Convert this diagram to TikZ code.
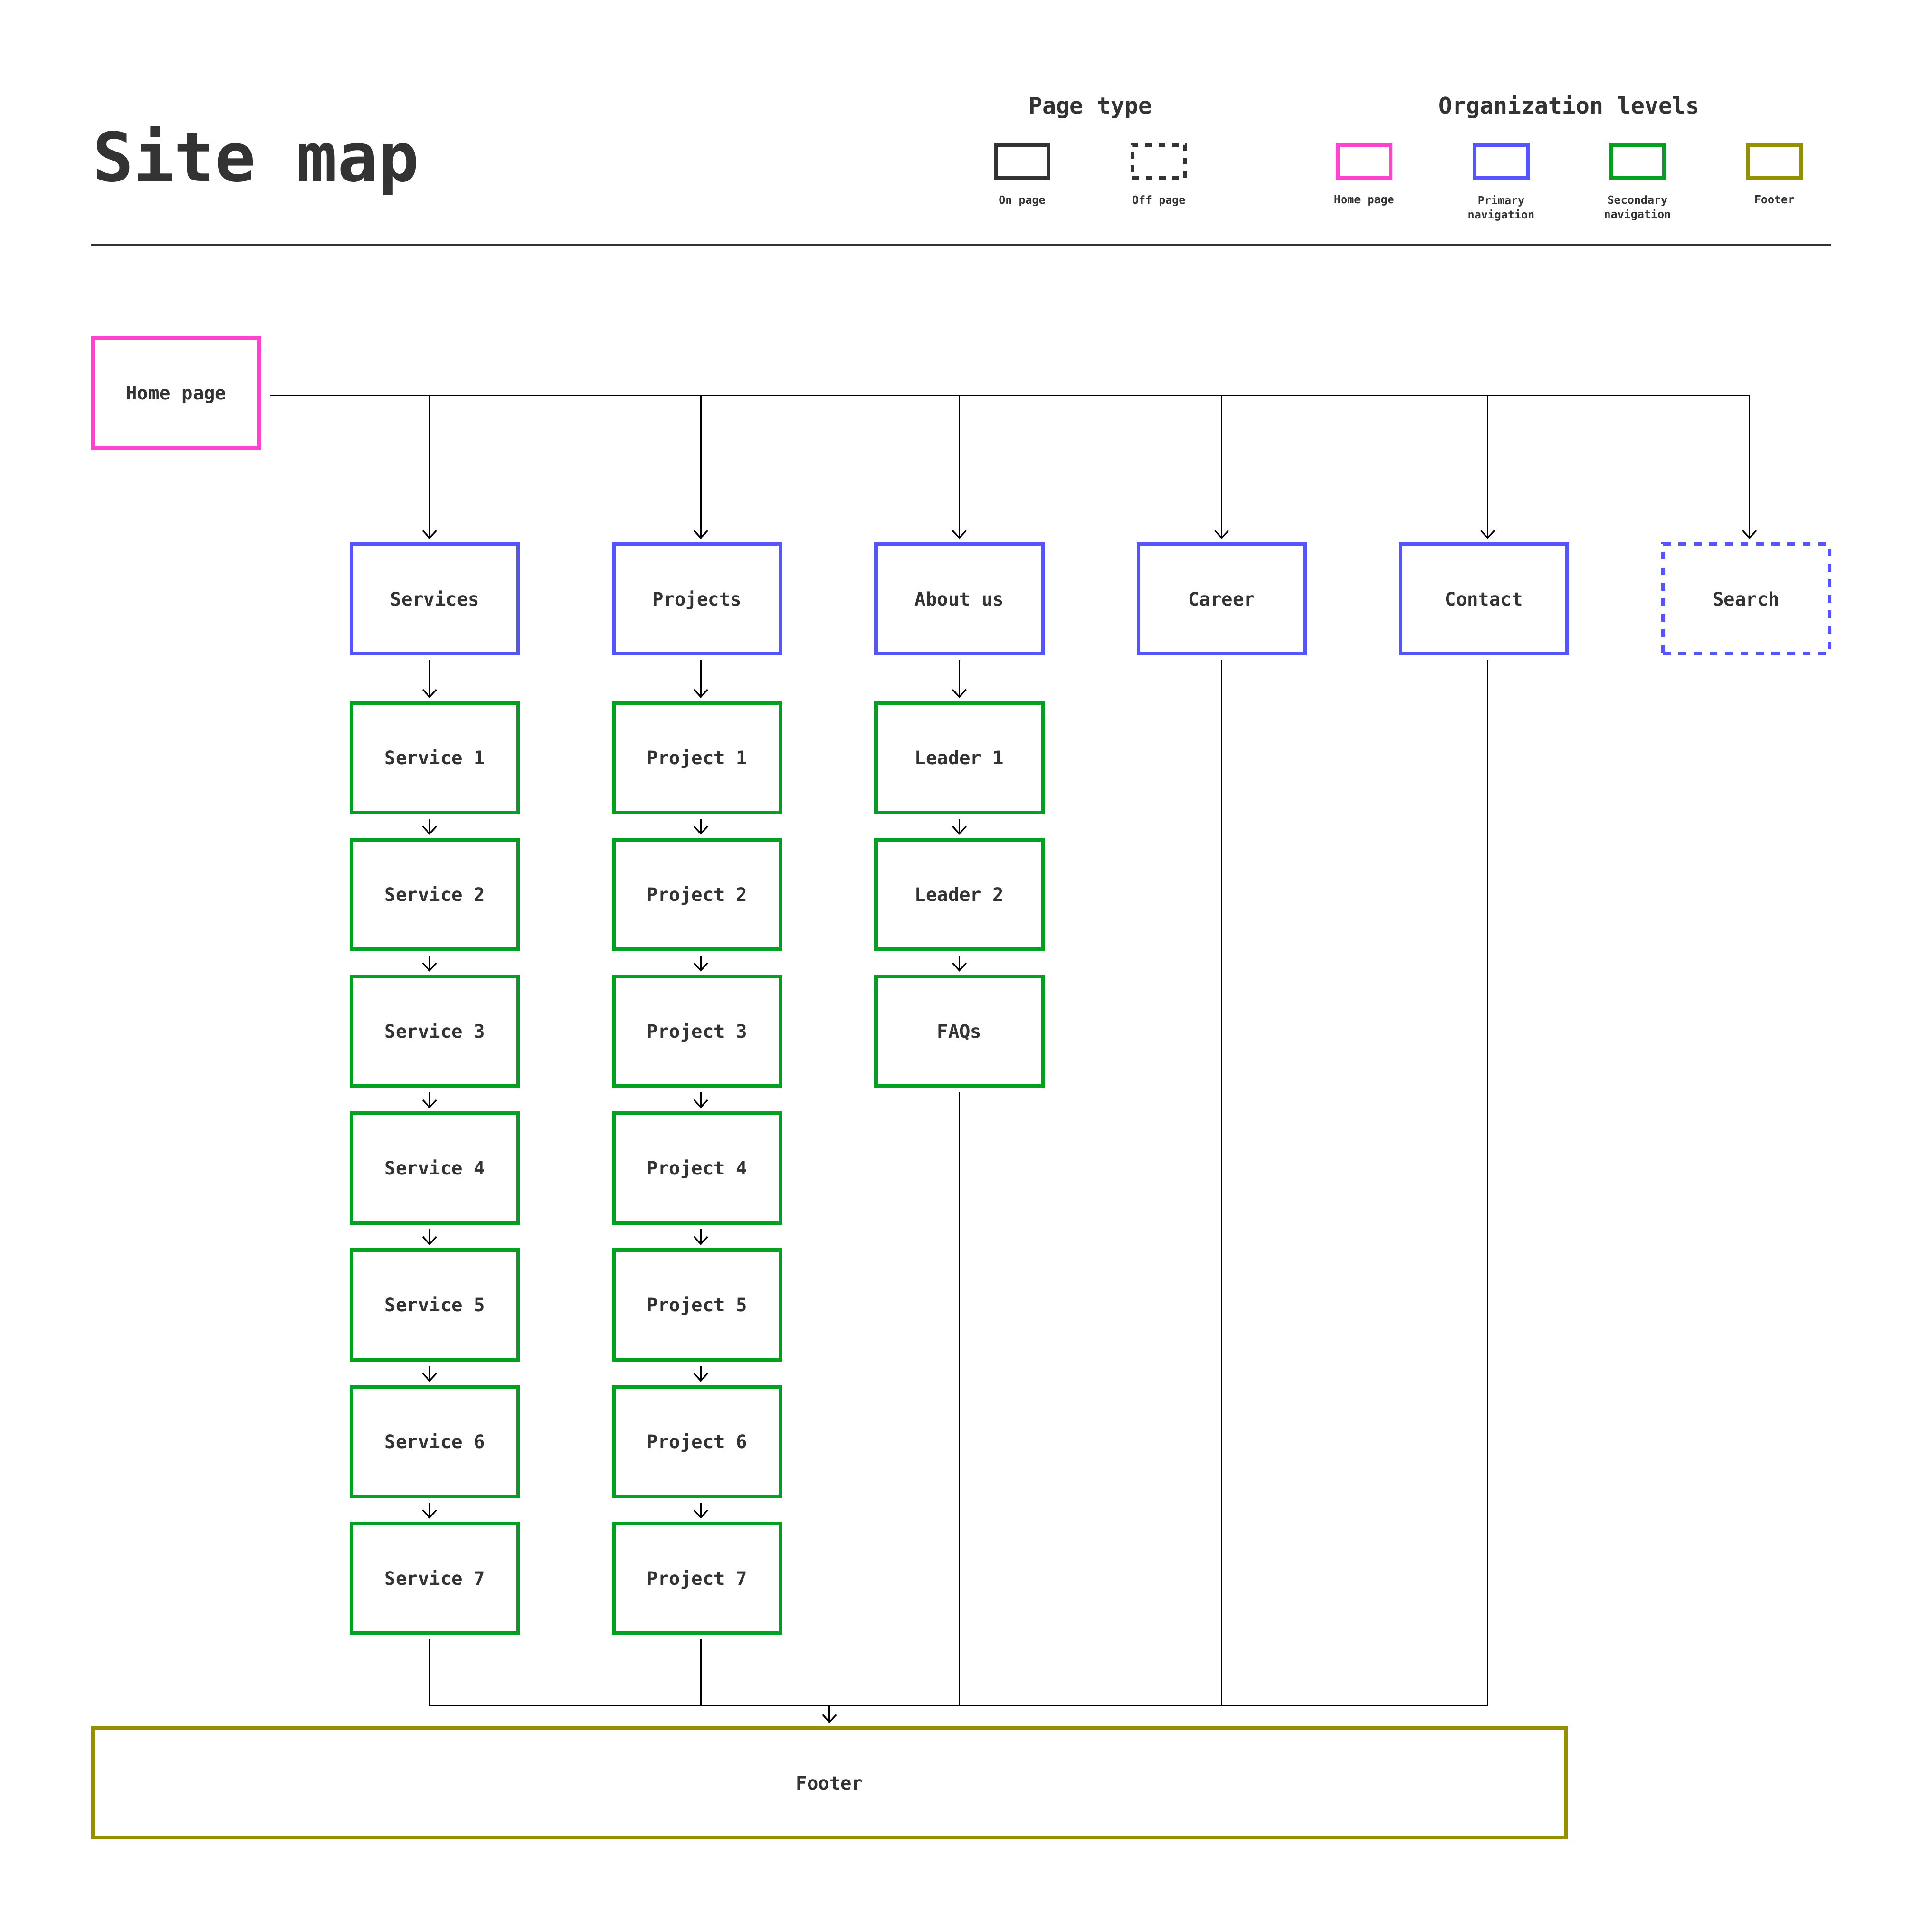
\documentclass[tikz,border=0pt]{standalone}
\usepackage{fontspec}
\newfontfamily\mapfont{DejaVu Sans Mono}
\usepackage{xcolor}
\definecolor{ink}{HTML}{333333}
\definecolor{homepink}{HTML}{FF44CC}
\definecolor{navblue}{HTML}{5555FF}
\definecolor{subgreen}{HTML}{00A020}
\definecolor{footolive}{HTML}{968F00}
\usepackage{tikz}
\usetikzlibrary{arrows.meta}

\tikzset{
  page/.style={draw, line width=3pt, minimum width=135pt, minimum height=89pt, inner sep=0pt,
    text height=11pt, text depth=0pt, text=ink, font=\mapfont\bfseries\fontsize{15}{18}\selectfont},
  homepage/.style={page, draw=homepink},
  primary/.style={page, draw=navblue},
  secondary/.style={page, draw=subgreen},
  footerpage/.style={page, draw=footolive, minimum width=1195pt},
  offpage/.style={dash pattern=on 6.3pt off 6.3pt},
  link/.style={line width=1.2pt, -{Straight Barb[length=6pt,width=11pt]}, shorten >=2.5pt},
  boxlink/.style={link, shorten <=3.5pt},
  wire/.style={line width=1.2pt, shorten <=3.5pt},
  legendbox/.style={draw, line width=3pt, minimum width=43pt, minimum height=27pt, inner sep=0pt},
  legendtitle/.style={anchor=base, inner sep=0pt, text=ink, font=\mapfont\bfseries\fontsize{18.5}{21}\selectfont},
  legendlabel/.style={anchor=north, inner sep=0pt, align=center, text=ink,
    font=\mapfont\bfseries\fontsize{9}{11.6}\selectfont},
}

\begin{document}
\begin{tikzpicture}[x=1pt, y=-1pt]
            \fill[white] (0,0) rectangle (1560,1568);
            \useasboundingbox (0,0) rectangle (1560,1568);

            % header
            \node[anchor=base west, inner sep=0pt, text=ink, font=\mapfont\bfseries\fontsize{55}{62}\selectfont] (title) at (75,147) {Site map};
            \draw[line width=1.5pt, ink] (74,198.7) -- (1486,198.7);

            % legend
            \node[legendtitle] (typetitle) at (884.7,92.5) {Page type};
            \node[legendtitle] (leveltitle) at (1273.2,92.5) {Organization levels};

            \node[legendbox, draw=ink] (legon) at (829.3,131) {};
            \node[legendbox, draw=ink, dash pattern=on 5.4pt off 5.4pt] (legoff) at (940.2,131) {};
            \node[legendbox, draw=homepink] (leghome) at (1106.8,131) {};
            \node[legendbox, draw=navblue] (legprim) at (1218,131) {};
            \node[legendbox, draw=subgreen] (legsec) at (1328.6,131) {};
            \node[legendbox, draw=footolive] (legfoot) at (1439.7,131) {};

            \node[legendlabel] (legonlbl) at (829.3,158.5) {On page};
            \node[legendlabel] (legofflbl) at (940.2,158.5) {Off page};
            \node[legendlabel] (leghomelbl) at (1106.8,158.5) {Home page};
            \node[legendlabel] (legprimlbl) at (1218,158.5) {Primary\\navigation};
            \node[legendlabel] (legseclbl) at (1328.6,158.5) {Secondary\\navigation};
            \node[legendlabel] (legfootlbl) at (1439.7,158.5) {Footer};

            % pages
            \node[homepage] (home) at (143,319) {Home page};

            \node[primary] (srv) at (352.8,486) {Services};
            \node[primary] (prj) at (565.6,486) {Projects};
            \node[primary] (abt) at (778.4,486) {About us};
            \node[primary] (car) at (991.2,486) {Career};
            \node[primary] (con) at (1204,486) {Contact};
            \node[primary, offpage] (sea) at (1416.8,486) {Search};

            \node[secondary] (s1) at (352.8,615) {Service 1};
            \node[secondary] (s2) at (352.8,726) {Service 2};
            \node[secondary] (s3) at (352.8,837) {Service 3};
            \node[secondary] (s4) at (352.8,948) {Service 4};
            \node[secondary] (s5) at (352.8,1059) {Service 5};
            \node[secondary] (s6) at (352.8,1170) {Service 6};
            \node[secondary] (s7) at (352.8,1281) {Service 7};

            \node[secondary] (p1) at (565.6,615) {Project 1};
            \node[secondary] (p2) at (565.6,726) {Project 2};
            \node[secondary] (p3) at (565.6,837) {Project 3};
            \node[secondary] (p4) at (565.6,948) {Project 4};
            \node[secondary] (p5) at (565.6,1059) {Project 5};
            \node[secondary] (p6) at (565.6,1170) {Project 6};
            \node[secondary] (p7) at (565.6,1281) {Project 7};

            \node[secondary] (l1) at (778.4,615) {Leader 1};
            \node[secondary] (l2) at (778.4,726) {Leader 2};
            \node[secondary] (faq) at (778.4,837) {FAQs};

            \node[footerpage] (footer) at (673,1447) {Footer};

            % columns of the connectors
            \coordinate (xsrv) at ([xshift=-4.3pt]srv.center);
            \coordinate (xprj) at ([xshift=3pt]prj.center);
            \coordinate (xabt) at (abt.center);
            \coordinate (xcar) at (car.center);
            \coordinate (xcon) at ([xshift=3pt]con.center);
            \coordinate (xsea) at ([xshift=2.7pt]sea.center);
            \coordinate (hbus) at ([xshift=4pt,yshift=-2pt]home.east);
            \coordinate (fbus) at ([yshift=17pt]footer.north);

            % home page to primary navigation
            \draw[boxlink] (hbus) -| (xsea |- sea.north);
            \draw[link] (xsrv |- hbus) -- (xsrv |- srv.north);
            \draw[link] (xprj |- hbus) -- (xprj |- prj.north);
            \draw[link] (xabt |- hbus) -- (xabt |- abt.north);
            \draw[link] (xcar |- hbus) -- (xcar |- car.north);
            \draw[link] (xcon |- hbus) -- (xcon |- con.north);

            % secondary navigation
            \draw[boxlink] (xsrv |- srv.south) -- (xsrv |- s1.north);
            \draw[boxlink] (xsrv |- s1.south) -- (xsrv |- s2.north);
            \draw[boxlink] (xsrv |- s2.south) -- (xsrv |- s3.north);
            \draw[boxlink] (xsrv |- s3.south) -- (xsrv |- s4.north);
            \draw[boxlink] (xsrv |- s4.south) -- (xsrv |- s5.north);
            \draw[boxlink] (xsrv |- s5.south) -- (xsrv |- s6.north);
            \draw[boxlink] (xsrv |- s6.south) -- (xsrv |- s7.north);

            \draw[boxlink] (xprj |- prj.south) -- (xprj |- p1.north);
            \draw[boxlink] (xprj |- p1.south) -- (xprj |- p2.north);
            \draw[boxlink] (xprj |- p2.south) -- (xprj |- p3.north);
            \draw[boxlink] (xprj |- p3.south) -- (xprj |- p4.north);
            \draw[boxlink] (xprj |- p4.south) -- (xprj |- p5.north);
            \draw[boxlink] (xprj |- p5.south) -- (xprj |- p6.north);
            \draw[boxlink] (xprj |- p6.south) -- (xprj |- p7.north);

            \draw[boxlink] (xabt |- abt.south) -- (xabt |- l1.north);
            \draw[boxlink] (xabt |- l1.south) -- (xabt |- l2.north);
            \draw[boxlink] (xabt |- l2.south) -- (xabt |- faq.north);

            % footer
            \draw[wire, shorten >=3.5pt] (xsrv |- s7.south) |- (xcon |- fbus) -- (xcon |- con.south);
            \draw[wire] (xprj |- p7.south) -- (xprj |- fbus);
            \draw[wire] (xabt |- faq.south) -- (xabt |- fbus);
            \draw[wire] (xcar |- car.south) -- (xcar |- fbus);
            \draw[link] (footer.north |- fbus) -- (footer.north);
\end{tikzpicture}
\end{document}
